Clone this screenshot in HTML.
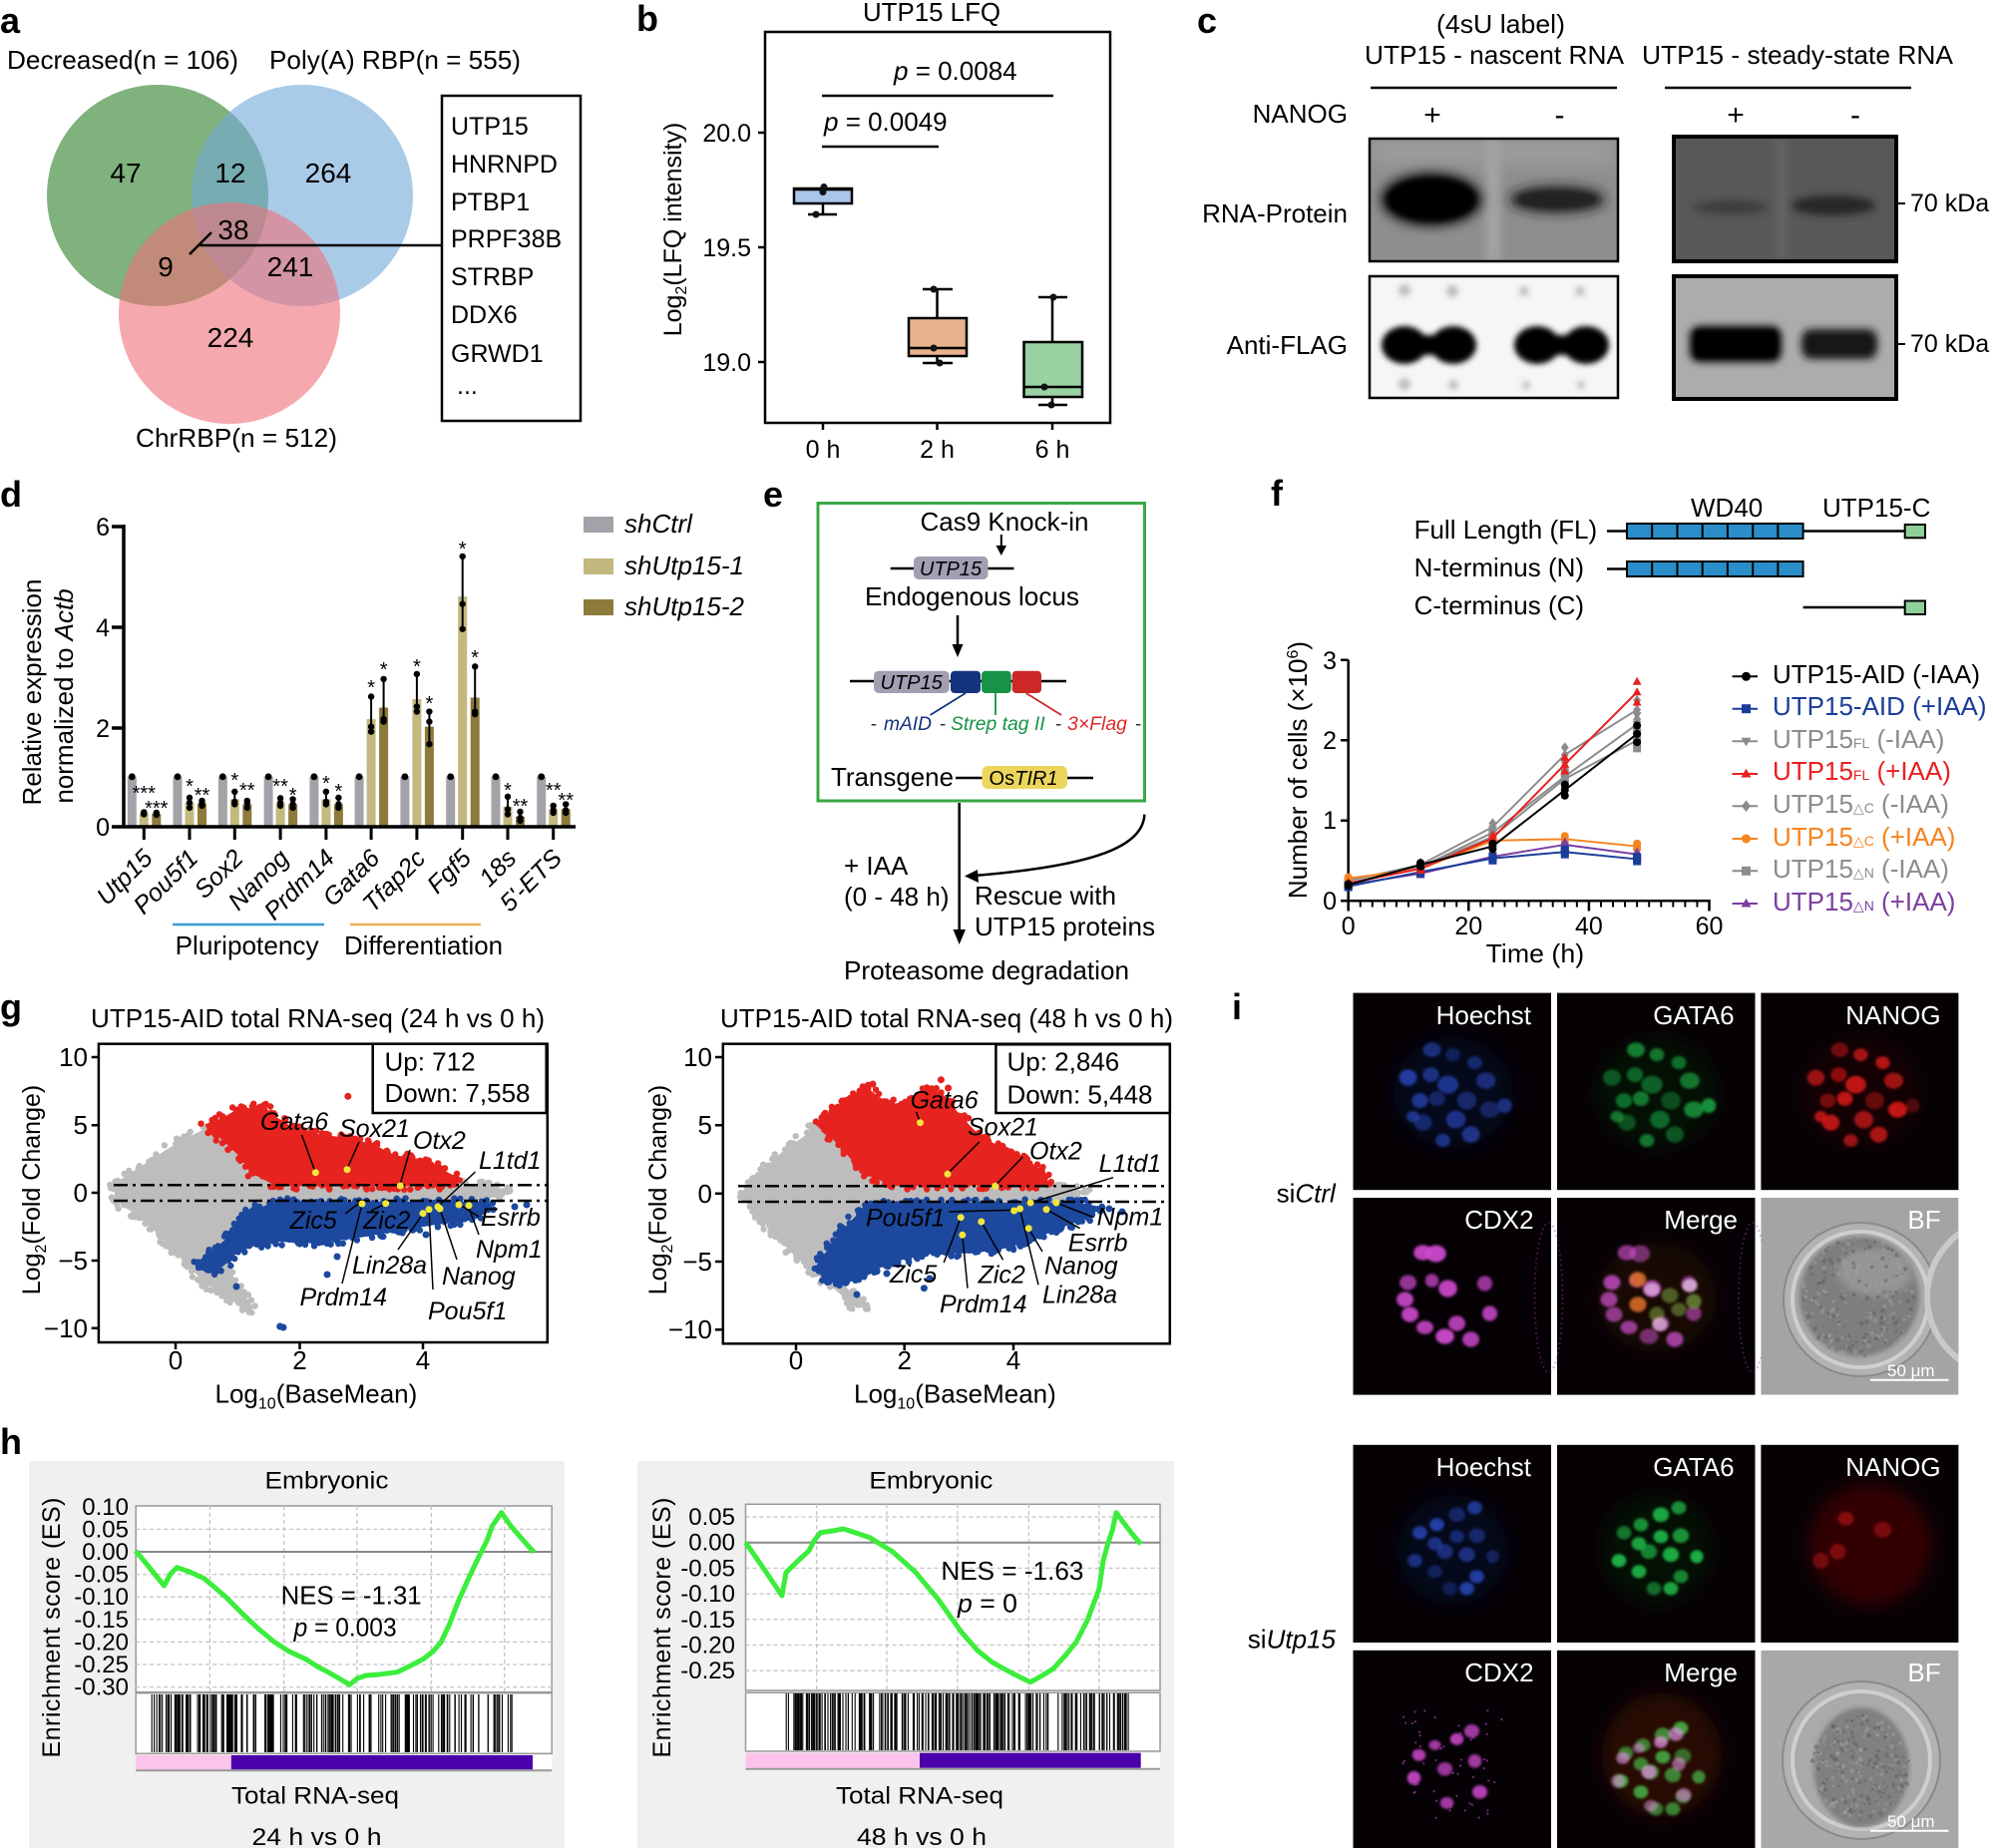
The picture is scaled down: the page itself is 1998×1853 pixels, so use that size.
<!DOCTYPE html>
<html><head><meta charset="utf-8"><title>Figure</title>
<style>
html,body{margin:0;padding:0;background:#fff;width:1998px;height:1853px;overflow:hidden}
svg{display:block;font-family:"Liberation Sans",Arial,"DejaVu Sans",sans-serif}
.pl{font-weight:bold;font-size:36px}
.i{font-style:italic}
</style></head><body>
<svg id="s" xmlns="http://www.w3.org/2000/svg" width="1998" height="1853" viewBox="0 0 1998 1853" font-size="26">
<defs>
<filter id="b1" x="-50%" y="-50%" width="200%" height="200%"><feGaussianBlur stdDeviation="1.3"/></filter>
<filter id="b2" x="-50%" y="-50%" width="200%" height="200%"><feGaussianBlur stdDeviation="2"/></filter>
<filter id="b3" x="-50%" y="-50%" width="200%" height="200%"><feGaussianBlur stdDeviation="3"/></filter>
<filter id="b4" x="-50%" y="-50%" width="200%" height="200%"><feGaussianBlur stdDeviation="4"/></filter>
<filter id="b6" x="-50%" y="-50%" width="200%" height="200%"><feGaussianBlur stdDeviation="6"/></filter>
<filter id="b8" x="-50%" y="-50%" width="200%" height="200%"><feGaussianBlur stdDeviation="9"/></filter>
<clipPath id="cb1"><rect x="1373" y="139" width="249" height="123"/></clipPath>
<clipPath id="cb2"><rect x="1678" y="137" width="223" height="125"/></clipPath>
<clipPath id="cb3"><rect x="1373" y="277" width="249" height="122"/></clipPath>
<clipPath id="cb4"><rect x="1678" y="277" width="223" height="123"/></clipPath>
<clipPath id="cgL"><rect x="99" y="1047" width="450" height="299"/></clipPath>
<clipPath id="cgR"><rect x="725" y="1047" width="448" height="300"/></clipPath>
<clipPath id="cbf1"><rect x="1765.4" y="1201" width="198" height="197.6"/></clipPath>
<clipPath id="cbf2"><rect x="1765.4" y="1654.8" width="198" height="198.2"/></clipPath>
<clipPath id="cimg"><rect x="1356" y="995" width="608" height="858"/></clipPath>
</defs>

<!-- ================= Panel a ================= -->
<text class="pl" x="0" y="33">a</text>
<text x="7" y="69" textLength="232" lengthAdjust="spacingAndGlyphs">Decreased(n = 106)</text>
<text x="270" y="69" textLength="252" lengthAdjust="spacingAndGlyphs">Poly(A) RBP(n = 555)</text>
<circle cx="158" cy="196" r="111" fill="rgb(42,127,37)" fill-opacity="0.6"/>
<circle cx="303" cy="196" r="111" fill="rgb(113,168,217)" fill-opacity="0.6"/>
<circle cx="230" cy="314" r="111" fill="rgb(238,112,120)" fill-opacity="0.6"/>
<g font-size="28" text-anchor="middle">
<text x="126" y="183">47</text><text x="231" y="183">12</text><text x="329" y="183">264</text>
<text x="234" y="240">38</text><text x="166" y="277">9</text><text x="291" y="277">241</text>
<text x="231" y="348">224</text>
</g>
<text x="136" y="448" textLength="202" lengthAdjust="spacingAndGlyphs">ChrRBP(n = 512)</text>
<path d="M190 255L212 233M200 246H443" stroke="#000" stroke-width="2.5" fill="none"/>
<rect x="443" y="96" width="139" height="326" fill="none" stroke="#000" stroke-width="2.5"/>
<g font-size="25">
<text x="452" y="135">UTP15</text><text x="452" y="173">HNRNPD</text><text x="452" y="211">PTBP1</text>
<text x="452" y="248">PRPF38B</text><text x="452" y="286">STRBP</text><text x="452" y="324">DDX6</text>
<text x="452" y="363">GRWD1</text><text x="458" y="395">...</text>
</g>

<!-- ================= Panel b ================= -->
<text class="pl" x="638" y="31">b</text>
<text x="865" y="21" textLength="138" lengthAdjust="spacingAndGlyphs">UTP15 LFQ</text>
<rect x="767" y="32" width="346" height="392" fill="none" stroke="#000" stroke-width="2.5"/>
<path d="M760 133H767M760 248H767M760 363H767M825 424V431M939.5 424V431M1055 424V431" stroke="#000" stroke-width="2.5"/>
<g text-anchor="end" font-size="25"><text x="753" y="142">20.0</text><text x="753" y="257">19.5</text><text x="753" y="372">19.0</text></g>
<g text-anchor="middle" font-size="25"><text x="825" y="459">0 h</text><text x="939.5" y="459">2 h</text><text x="1055" y="459">6 h</text></g>
<text transform="rotate(-90 683 230)" x="683" y="230" text-anchor="middle" font-size="25">Log<tspan font-size="16" dy="5">2</tspan><tspan dy="-5">(LFQ intensity)</tspan></text>
<g stroke="#000" stroke-width="2.5" fill="none">
<path d="M825 204V215M810 215H839"/>
<rect x="796" y="189" width="58" height="15" fill="#a9c5e8"/>
<line x1="796" y1="190" x2="854" y2="190"/>
<path d="M939.5 319V290M925 290H955M939.5 357V364M925 364H955"/>
<rect x="911" y="319" width="58" height="38" fill="#e7b28d"/>
<line x1="911" y1="349" x2="969" y2="349"/>
<path d="M1055 343V298M1041 298H1070M1055 398V406M1041 406H1070"/>
<rect x="1026.5" y="343" width="58.5" height="55" fill="#9ad1a3"/>
<line x1="1026.5" y1="388" x2="1085" y2="388"/>
</g>
<g fill="#111"><circle cx="825" cy="192.5" r="3.5"/><circle cx="826" cy="187.5" r="3.5"/><circle cx="818" cy="215" r="3.5"/>
<circle cx="936" cy="290" r="3.5"/><circle cx="936" cy="349" r="3.5"/><circle cx="942" cy="364" r="3.5"/>
<circle cx="1056" cy="298" r="3.5"/><circle cx="1047" cy="388" r="3.5"/><circle cx="1054" cy="406" r="3.5"/></g>
<path d="M824 147H941M824 96H1056" stroke="#000" stroke-width="2.5"/>
<text x="826" y="131"><tspan class="i">p</tspan> = 0.0049</text>
<text x="896" y="80"><tspan class="i">p</tspan> = 0.0084</text>

<!-- ================= Panel c ================= -->
<text class="pl" x="1200" y="33">c</text>
<text x="1440" y="33" textLength="129" lengthAdjust="spacingAndGlyphs">(4sU label)</text>
<text x="1368" y="64" textLength="260" lengthAdjust="spacingAndGlyphs">UTP15 - nascent RNA</text>
<text x="1646" y="64" textLength="312" lengthAdjust="spacingAndGlyphs">UTP15 - steady-state RNA</text>
<path d="M1374 88H1621M1669 88H1916" stroke="#000" stroke-width="2.5"/>
<text x="1351" y="123" text-anchor="end">NANOG</text>
<g font-size="30" text-anchor="middle"><text x="1436" y="125">+</text><text x="1563.5" y="125">-</text><text x="1740" y="125">+</text><text x="1860" y="125">-</text></g>
<g clip-path="url(#cb1)">
<rect x="1373" y="139" width="249" height="123" fill="#8e8e8e"/>
<rect x="1373" y="139" width="249" height="25" fill="#9c9c9c" filter="url(#b8)"/>
<rect x="1489" y="139" width="16" height="123" fill="#a2a2a2" filter="url(#b4)"/>
<ellipse cx="1435" cy="200" rx="50" ry="26" fill="#000" filter="url(#b6)"/>
<ellipse cx="1435" cy="200" rx="44" ry="21" fill="#000" filter="url(#b3)"/>
<ellipse cx="1561" cy="200" rx="48" ry="13" fill="#1a1a1a" filter="url(#b6)"/>
<ellipse cx="1561" cy="200" rx="40" ry="8" fill="#202020" filter="url(#b3)"/>
</g>
<rect x="1373" y="139" width="249" height="123" fill="none" stroke="#000" stroke-width="2.5"/>
<g clip-path="url(#cb2)">
<rect x="1678" y="137" width="223" height="125" fill="#585858"/>
<rect x="1780" y="137" width="12" height="125" fill="#646464" filter="url(#b4)"/>
<ellipse cx="1735" cy="208" rx="38" ry="7" fill="#3c3c3c" filter="url(#b4)"/>
<ellipse cx="1838" cy="206" rx="42" ry="10" fill="#262626" filter="url(#b4)"/>
</g>
<rect x="1678" y="137" width="223" height="125" fill="none" stroke="#000" stroke-width="4"/>
<g clip-path="url(#cb3)">
<rect x="1373" y="277" width="249" height="122" fill="#f6f6f6"/>
<g fill="#000" filter="url(#b3)">
<ellipse cx="1408" cy="346" rx="23" ry="19"/><ellipse cx="1457" cy="346" rx="23" ry="19"/><rect x="1395" y="336" width="75" height="20"/>
<ellipse cx="1541" cy="346" rx="23" ry="19"/><ellipse cx="1590" cy="346" rx="23" ry="19"/><rect x="1528" y="336" width="75" height="20"/>
</g>
<g fill="#777" fill-opacity="0.45" filter="url(#b3)">
<circle cx="1408" cy="291" r="6"/><circle cx="1456" cy="292" r="6"/><circle cx="1528" cy="292" r="5"/><circle cx="1584" cy="292" r="5"/>
<circle cx="1408" cy="385" r="6"/><circle cx="1457" cy="386" r="5"/><circle cx="1530" cy="386" r="4"/><circle cx="1585" cy="386" r="4"/>
</g>
</g>
<rect x="1373" y="277" width="249" height="122" fill="none" stroke="#000" stroke-width="2.5"/>
<g clip-path="url(#cb4)">
<rect x="1678" y="277" width="223" height="123" fill="#acacac"/>
<rect x="1694" y="327" width="92" height="36" rx="10" fill="#000" filter="url(#b4)"/>
<rect x="1700" y="332" width="80" height="26" fill="#000" filter="url(#b2)"/>
<rect x="1806" y="330" width="76" height="30" rx="10" fill="#161616" filter="url(#b4)"/>
</g>
<rect x="1678" y="277" width="223" height="123" fill="none" stroke="#000" stroke-width="4"/>
<text x="1351" y="223" text-anchor="end">RNA-Protein</text>
<text x="1351" y="355" text-anchor="end">Anti-FLAG</text>
<path d="M1903 204H1910M1903 345H1910" stroke="#000" stroke-width="2"/>
<text x="1915" y="212" font-size="25">70 kDa</text>
<text x="1915" y="353" font-size="25">70 kDa</text>

<!-- ================= Panel d ================= -->
<text class="pl" x="0" y="508">d</text>
<g id="gd"></g>
<path d="M124 526V829M112 829H577M112 528H124M112 629H124M112 730H124" stroke="#000" stroke-width="3.5" fill="none"/>
<path d="M144.3 829V842M190 829V842M235.3 829V842M281.1 829V842M326.9 829V842M372.1 829V842M417.9 829V842M463.7 829V842M509 829V842M554.7 829V842" stroke="#000" stroke-width="3"/>
<g text-anchor="end" font-size="25"><text x="110" y="537">6</text><text x="110" y="638">4</text><text x="110" y="739">2</text><text x="110" y="838">0</text></g>
<g font-size="20" text-anchor="middle">
<text x="144.3" y="802">***</text><text x="156.8" y="817">***</text>
<text x="190" y="795">*</text><text x="202.5" y="804">**</text>
<text x="235.3" y="789">*</text><text x="247.8" y="799">**</text>
<text x="281.1" y="795">**</text><text x="293.6" y="804">*</text>
<text x="326.9" y="792">*</text><text x="339.4" y="800">*</text>
<text x="372.1" y="696">*</text><text x="384.6" y="678">*</text>
<text x="417.9" y="675">*</text><text x="430.4" y="712">*</text>
<text x="463.7" y="557">*</text><text x="476.2" y="666">*</text>
<text x="509" y="799">*</text><text x="521.5" y="815">**</text>
<text x="554.7" y="799">**</text><text x="567.2" y="809">**</text>
</g>
<g class="i" font-size="25" text-anchor="end">
<text transform="rotate(-45 154.3 862)" x="154.3" y="862">Utp15</text>
<text transform="rotate(-45 200 862)" x="200" y="862">Pou5f1</text>
<text transform="rotate(-45 245.3 862)" x="245.3" y="862">Sox2</text>
<text transform="rotate(-45 291.1 862)" x="291.1" y="862">Nanog</text>
<text transform="rotate(-45 336.9 862)" x="336.9" y="862">Prdm14</text>
<text transform="rotate(-45 382.1 862)" x="382.1" y="862">Gata6</text>
<text transform="rotate(-45 427.9 862)" x="427.9" y="862">Tfap2c</text>
<text transform="rotate(-45 473.7 862)" x="473.7" y="862">Fgf5</text>
<text transform="rotate(-45 519 862)" x="519" y="862">18s</text>
<text transform="rotate(-45 564.7 862)" x="564.7" y="862">5'-ETS</text>
</g>
<path d="M173 927H325" stroke="#3c9bd8" stroke-width="2.5"/>
<path d="M351 927H482" stroke="#e9b04f" stroke-width="2.5"/>
<text x="175.6" y="957" textLength="144" lengthAdjust="spacingAndGlyphs">Pluripotency</text>
<text x="345" y="957" textLength="159" lengthAdjust="spacingAndGlyphs">Differentiation</text>
<text transform="rotate(-90 41 694)" x="41" y="694" text-anchor="middle">Relative expression</text>
<text transform="rotate(-90 73 698)" x="73" y="698" text-anchor="middle">normalized to <tspan class="i">Actb</tspan></text>
<rect x="585" y="518" width="30" height="16" fill="#a3a2a8"/>
<rect x="585" y="560" width="30" height="16" fill="#c3b97f"/>
<rect x="585" y="601" width="30" height="16" fill="#8d7b3b"/>
<g class="i"><text x="626" y="534">shCtrl</text><text x="626" y="576">shUtp15-1</text><text x="626" y="617">shUtp15-2</text></g>

<!-- ================= Panel e ================= -->
<text class="pl" x="765" y="508">e</text>
<rect x="820" y="504.5" width="327.5" height="298.5" fill="none" stroke="#3aa845" stroke-width="3"/>
<text x="922.5" y="532" textLength="169" lengthAdjust="spacingAndGlyphs">Cas9 Knock-in</text>
<path d="M1003.8 536V550" stroke="#000" stroke-width="2"/><path d="M998.5 547H1009L1003.8 557Z"/>
<path d="M892.7 570H1016.4" stroke="#000" stroke-width="2.5"/>
<rect x="916" y="558" width="74.5" height="23" rx="5" fill="#a39eb2"/>
<text x="953" y="577" text-anchor="middle" class="i" font-size="20">UTP15</text>
<text x="867" y="607" textLength="215" lengthAdjust="spacingAndGlyphs">Endogenous locus</text>
<path d="M960 617V648" stroke="#000" stroke-width="2.5"/><path d="M954.5 646H965.5L960 659Z"/>
<path d="M852 683H1069" stroke="#000" stroke-width="2.5"/>
<rect x="876" y="672.7" width="75.7" height="22.3" rx="5" fill="#a39eb2"/>
<text x="913.6" y="691" text-anchor="middle" class="i" font-size="20">UTP15</text>
<rect x="953" y="672.7" width="30" height="22.3" rx="4" fill="#13337f"/>
<rect x="984" y="672.7" width="29.7" height="22.3" rx="4" fill="#179246"/>
<rect x="1014.7" y="672.7" width="29.3" height="22.3" rx="4" fill="#cc2828"/>
<path d="M968 695L932.5 717" stroke="#13337f" stroke-width="1.8"/>
<path d="M998 695V717" stroke="#179246" stroke-width="1.8"/>
<path d="M1028.7 695L1064 717" stroke="#cc2828" stroke-width="1.8"/>
<g font-size="19">
<text x="872.8" y="732" fill="#333">-</text>
<text x="886" y="732" fill="#13337f" class="i" textLength="48" lengthAdjust="spacingAndGlyphs">mAID</text>
<text x="942" y="732" fill="#333">-</text>
<text x="953" y="732" fill="#179246" class="i" textLength="94.6" lengthAdjust="spacingAndGlyphs">Strep tag II</text>
<text x="1058" y="732" fill="#333">-</text>
<text x="1070" y="732" fill="#dd2a2a" class="i" textLength="60" lengthAdjust="spacingAndGlyphs">3×Flag</text>
<text x="1138" y="732" fill="#333">-</text>
</g>
<text x="833" y="788" textLength="123" lengthAdjust="spacingAndGlyphs">Transgene</text>
<path d="M958 780H984.5M1070 780H1096" stroke="#000" stroke-width="2.5"/>
<rect x="984.5" y="768" width="85.5" height="23" rx="6" fill="#ecd55c"/>
<text x="1026" y="787" text-anchor="middle" font-size="20">Os<tspan class="i">TIR1</tspan></text>
<path d="M961.7 805V934" stroke="#000" stroke-width="2.5"/><path d="M955.5 932H968L961.7 947Z"/>
<path d="M1147.4 816.7C1146 848 1100 868 976 878" stroke="#000" stroke-width="2.5" fill="none"/><path d="M967 878.5L980 872L981 885Z"/>
<text x="846" y="877">+ IAA</text>
<text x="846" y="908">(0 - 48 h)</text>
<text x="977" y="907" textLength="142" lengthAdjust="spacingAndGlyphs">Rescue with</text>
<text x="977" y="938" textLength="181" lengthAdjust="spacingAndGlyphs">UTP15 proteins</text>
<text x="846" y="982" textLength="286" lengthAdjust="spacingAndGlyphs">Proteasome degradation</text>

<!-- ================= Panel f ================= -->
<text class="pl" x="1274" y="507">f</text>
<text x="1695" y="518">WD40</text>
<text x="1827" y="518">UTP15-C</text>
<text x="1417.6" y="540">Full Length (FL)</text>
<text x="1417.6" y="578">N-terminus (N)</text>
<text x="1417.6" y="616">C-terminus (C)</text>
<path d="M1611 532.5H1631M1807.6 532.5H1910M1611 570.5H1631M1807.6 609H1910" stroke="#000" stroke-width="2.5"/>
<g stroke="#000" stroke-width="2">
<rect x="1631" y="525" width="176.6" height="15" fill="#2b8dc9"/>
<rect x="1631" y="563" width="176.6" height="15" fill="#2b8dc9"/>
<path d="M1656.2 525V540M1681.5 525V540M1706.7 525V540M1731.9 525V540M1757.2 525V540M1782.4 525V540M1656.2 563V578M1681.5 563V578M1706.7 563V578M1731.9 563V578M1757.2 563V578M1782.4 563V578"/>
<rect x="1909.7" y="526" width="20.3" height="13.3" fill="#8fcf9a"/>
<rect x="1909.7" y="602.5" width="20.3" height="13.5" fill="#8fcf9a"/>
</g>
<path d="M1351.7 661.7V903.3H1714.8M1344 661.7H1351.7M1344 742.2H1351.7M1344 822.7H1351.7M1344 903.3H1351.7M1351.7 903.3V913.5M1472.3 903.3V913.5M1592.9 903.3V913.5M1713.5 903.3V913.5" stroke="#000" stroke-width="2.5" fill="none"/>
<g id="gf"></g>
<g text-anchor="end" font-size="25"><text x="1340" y="671">3</text><text x="1340" y="751">2</text><text x="1340" y="831">1</text><text x="1340" y="912">0</text></g>
<g text-anchor="middle" font-size="25"><text x="1351.7" y="937">0</text><text x="1472.3" y="937">20</text><text x="1592.9" y="937">40</text><text x="1713.5" y="937">60</text></g>
<text x="1489.6" y="965" textLength="98.5" lengthAdjust="spacingAndGlyphs">Time (h)</text>
<text transform="rotate(-90 1310 772)" x="1310" y="772" text-anchor="middle">Number of cells (×10<tspan font-size="16" dy="-9">6</tspan><tspan dy="9">)</tspan></text>
<g stroke-width="2">
<line x1="1736.6" y1="678.3" x2="1762" y2="678.3" stroke="#000"/><circle cx="1750.5" cy="678.3" r="4.5" fill="#000"/>
<line x1="1736.6" y1="710.7" x2="1762" y2="710.7" stroke="#1a3d9a"/><rect x="1746" y="706.2" width="9" height="9" fill="#1a3d9a"/>
<line x1="1736.6" y1="743.3" x2="1762" y2="743.3" stroke="#8c8c8c"/><path d="M1750.5 748.5L1755.5 739.8H1745.5Z" fill="#8c8c8c"/>
<line x1="1736.6" y1="776" x2="1762" y2="776" stroke="#e82020"/><path d="M1750.5 770.8L1755.5 779.5H1745.5Z" fill="#e82020"/>
<line x1="1736.6" y1="808.3" x2="1762" y2="808.3" stroke="#8c8c8c"/><path d="M1750.5 802.5L1755 808.3L1750.5 814.1L1746 808.3Z" fill="#8c8c8c"/>
<line x1="1736.6" y1="841" x2="1762" y2="841" stroke="#f5841f"/><circle cx="1750.5" cy="841" r="4.5" fill="#f5841f"/>
<line x1="1736.6" y1="873.3" x2="1762" y2="873.3" stroke="#8c8c8c"/><rect x="1746" y="868.8" width="9" height="9" fill="#8c8c8c"/>
<line x1="1736.6" y1="906" x2="1762" y2="906" stroke="#7b3fa0"/><path d="M1750.5 900.8L1755.5 909.5H1745.5Z" fill="#7b3fa0"/>
</g>
<text x="1777" y="685">UTP15-AID (-IAA)</text>
<text x="1777" y="717" fill="#1a3d9a">UTP15-AID (+IAA)</text>
<text x="1777" y="750" fill="#8c8c8c">UTP15<tspan font-size="14">FL</tspan> (-IAA)</text>
<text x="1777" y="782" fill="#e82020">UTP15<tspan font-size="14">FL</tspan> (+IAA)</text>
<text x="1777" y="815" fill="#8c8c8c">UTP15<tspan font-size="14">△C</tspan> (-IAA)</text>
<text x="1777" y="848" fill="#f5841f">UTP15<tspan font-size="14">△C</tspan> (+IAA)</text>
<text x="1777" y="880" fill="#8c8c8c">UTP15<tspan font-size="14">△N</tspan> (-IAA)</text>
<text x="1777" y="913" fill="#7b3fa0">UTP15<tspan font-size="14">△N</tspan> (+IAA)</text>

<!-- ================= Panel g ================= -->
<text class="pl" x="0" y="1022">g</text>
<text x="91" y="1030" textLength="455" lengthAdjust="spacingAndGlyphs">UTP15-AID total RNA-seq (24 h vs 0 h)</text>
<text x="722" y="1030" textLength="454" lengthAdjust="spacingAndGlyphs">UTP15-AID total RNA-seq (48 h vs 0 h)</text>
<g clip-path="url(#cgL)">
<g id="gLg"><polygon id="pLg" fill="#bdbdbd" points="114.7,1186.7 136.4,1172.7 166,1153.3 185.8,1141.7 205.6,1131.7 221.4,1128.3 245,1146.7 276.8,1176.7 395.4,1181.7 486.4,1188.3 514,1194 486.4,1203.3 395.4,1206 276.8,1208.3 237.2,1223.3 221.4,1256.7 237.2,1290 255,1311.7 247,1313.3 205.6,1286.7 185.8,1266.7 158,1236.7 134.4,1216.7 114.7,1203.3"/></g>
<g id="gLr"><polygon id="pLr" fill="#e6231e" points="205.6,1127.3 221.4,1121.7 237.2,1112.7 253,1111.7 263,1108.3 276.8,1120 292.6,1130 316.3,1136.7 340,1140 359.8,1143.3 379.6,1150 395.4,1158.3 419,1161.7 439,1170 458.7,1180.7 454.7,1189.3 276.8,1189.3 253,1176.7 237.2,1156.7 221.4,1141.7 207.6,1132.7"/>
<circle cx="348.8" cy="1099.3" r="3.5" fill="#e6231e"/><circle cx="237" cy="1113" r="3.5" fill="#e6231e"/><circle cx="265" cy="1108" r="3.5" fill="#e6231e"/><circle cx="458" cy="1183" r="3.5" fill="#e6231e"/></g>
<g id="gLb"><polygon id="pLb" fill="#1c489e" points="276.8,1205 490.3,1205 494.3,1211.7 474.5,1223.3 435,1228.3 395.4,1235 355.9,1241.7 316.3,1246.7 276.8,1245 253,1250 237.2,1256.7 225.4,1268.3 213.5,1276.7 199.7,1273.3 197.7,1265 209.6,1256.7 225.4,1243.3 237.2,1226.7 253,1213.3"/>
<circle cx="280.7" cy="1330" r="3.5" fill="#1c489e"/><circle cx="284" cy="1331" r="3.5" fill="#1c489e"/><circle cx="328" cy="1278" r="3.5" fill="#1c489e"/><circle cx="338" cy="1260" r="3.5" fill="#1c489e"/><circle cx="237" cy="1290" r="3.5" fill="#1c489e"/><circle cx="427" cy="1238" r="3.5" fill="#1c489e"/><circle cx="516" cy="1210" r="3.5" fill="#1c489e"/><circle cx="528" cy="1208" r="3.5" fill="#1c489e"/></g>
</g>
<g clip-path="url(#cgR)">
<g id="gRg"><polygon id="pRg" fill="#bdbdbd" points="746.5,1190 762.3,1175 786,1153.3 809.8,1136.7 821.7,1123.3 833.5,1130 857.2,1150 888.9,1176.7 936.3,1186.7 1055,1190 1094.5,1195 1055,1205 936.3,1206.7 873,1210 845.4,1230 825.6,1263.3 841.4,1283.3 867.1,1310 859.2,1311.7 817.7,1276.7 794,1256.7 770.3,1230 754.4,1213.3 746.5,1203.3"/></g>
<g id="gRr"><polygon id="pRr" fill="#e6231e" points="821.7,1123.3 833.5,1113.3 847.4,1103.3 857.2,1096.7 869,1090 881,1100 896.8,1106.7 912.6,1103.3 932.4,1090 948.2,1100 964,1120 983.8,1140 1003.6,1150 1027.3,1160 1047,1176.7 1053,1188.3 896.8,1189.3 865.2,1176.7 845.4,1153.3 829.6,1136.7"/>
<circle cx="943.4" cy="1082.7" r="3.5" fill="#e6231e"/><circle cx="875" cy="1087" r="3.5" fill="#e6231e"/><circle cx="950.6" cy="1091" r="3.5" fill="#e6231e"/><circle cx="862" cy="1094" r="3.5" fill="#e6231e"/></g>
<g id="gRb"><polygon id="pRb" fill="#1c489e" points="873,1206 1082.6,1206 1102.4,1210 1094.5,1220 1066.8,1230 1035,1243.3 1007.5,1251.7 975.9,1256.7 936.3,1256.7 904.7,1263.3 877,1273.3 857.2,1283.3 841.4,1290 823.6,1280 817.7,1270 829.6,1253.3 841.4,1236.7 857.2,1220"/>
<circle cx="926.4" cy="1291.7" r="3.5" fill="#1c489e"/><circle cx="859" cy="1298" r="3.5" fill="#1c489e"/><circle cx="889" cy="1277" r="3.5" fill="#1c489e"/><circle cx="932" cy="1282" r="3.5" fill="#1c489e"/><circle cx="1112" cy="1212" r="3.5" fill="#1c489e"/><circle cx="1125" cy="1215" r="3.5" fill="#1c489e"/></g>
</g>
<g stroke="#000" stroke-width="2.5" stroke-dasharray="14 5 3 5">
<path d="M114 1188.3H548.8M114 1204H548.8"/>
<path d="M740 1189.3H1172.8M740 1205H1172.8"/>
</g>
<g stroke="#000" stroke-width="1.5" fill="none">
<path d="M302.5 1138L316 1175M360 1145L348 1172M411 1153L401 1188M476.5 1175L441 1208M480 1220L461 1208M480 1238L469 1208M458 1263L441 1212M434 1293L430 1212M399 1253L424 1217M343 1287L363 1207M346 1217L362 1205M372 1214L386.7 1207"/>
<path d="M918.5 1115L922.5 1125M981.8 1145L950 1176.7M1025.3 1160L997.6 1189M1116 1180.7L1033 1206M1096.5 1220.7L1058.9 1206M1082.6 1231.7L1049 1212.7M1045 1255L1031.2 1231.7M1041 1288.3L1022.5 1212.7M951.4 1215L1016.6 1213.3M946.2 1266L963.2 1220.7M970 1291.7L964.8 1238.3M1005.5 1263.3L983.8 1225"/>
</g>
<g fill="#f2e63a">
<circle cx="316.3" cy="1175.7" r="3.5"/><circle cx="348" cy="1172.7" r="3.5"/><circle cx="401.3" cy="1189" r="3.5"/><circle cx="439" cy="1210" r="3.5"/><circle cx="460" cy="1208" r="3.5"/><circle cx="470" cy="1208.7" r="3.5"/><circle cx="441" cy="1212" r="3.5"/><circle cx="430" cy="1212.7" r="3.5"/><circle cx="424" cy="1216.7" r="3.5"/><circle cx="363" cy="1207" r="3.5"/><circle cx="386.7" cy="1206.7" r="3.5"/>
<circle cx="922.5" cy="1125.7" r="3.5"/><circle cx="950" cy="1177.3" r="3.5"/><circle cx="997.6" cy="1189.3" r="3.5"/><circle cx="1033" cy="1206" r="3.5"/><circle cx="1058.9" cy="1206" r="3.5"/><circle cx="1049" cy="1212.7" r="3.5"/><circle cx="1031.2" cy="1231.7" r="3.5"/><circle cx="1022.5" cy="1212" r="3.5"/><circle cx="1016.6" cy="1214" r="3.5"/><circle cx="963.2" cy="1220.7" r="3.5"/><circle cx="964.8" cy="1238.3" r="3.5"/><circle cx="983.8" cy="1225" r="3.5"/>
</g>
<g class="i" font-size="25">
<text x="261" y="1133">Gata6</text><text x="340" y="1140">Sox21</text><text x="414" y="1152">Otx2</text><text x="480" y="1172">L1td1</text>
<text x="482" y="1229">Esrrb</text><text x="477" y="1261">Npm1</text><text x="443" y="1288">Nanog</text><text x="429" y="1323">Pou5f1</text>
<text x="353" y="1277">Lin28a</text><text x="300.5" y="1309">Prdm14</text><text x="290.6" y="1232">Zic5</text><text x="364" y="1232">Zic2</text>
<text x="912.6" y="1111.7">Gata6</text><text x="970" y="1138.3">Sox21</text><text x="1032" y="1162.7">Otx2</text><text x="1101.6" y="1175">L1td1</text>
<text x="1099.6" y="1228.3">Npm1</text><text x="1070.8" y="1254.3">Esrrb</text><text x="1047" y="1277.7">Nanog</text><text x="1045" y="1306.7">Lin28a</text>
<text x="868" y="1229.3">Pou5f1</text><text x="892" y="1286">Zic5</text><text x="942" y="1316">Prdm14</text><text x="980.6" y="1286.7">Zic2</text>
</g>
<rect x="98.9" y="1046.7" width="449.9" height="299.3" fill="none" stroke="#000" stroke-width="2.5"/>
<rect x="724.8" y="1046.7" width="448" height="300.6" fill="none" stroke="#000" stroke-width="2.5"/>
<rect x="373.7" y="1046.7" width="174" height="69.3" fill="#fff" stroke="#000" stroke-width="2.5"/>
<rect x="998.4" y="1047.3" width="174.4" height="68.7" fill="#fff" stroke="#000" stroke-width="2.5"/>
<text x="385.5" y="1073.3">Up: 712</text><text x="385.5" y="1105">Down: 7,558</text>
<text x="1009.5" y="1073.3">Up: 2,846</text><text x="1009.5" y="1106.7">Down: 5,448</text>
<path d="M91.7 1060H98.9M91.7 1128.3H98.9M91.7 1196H98.9M91.7 1264H98.9M91.7 1331.7H98.9M176 1346V1353M300.5 1346V1353M424 1346V1353" stroke="#000" stroke-width="2.5"/>
<path d="M716.9 1060H724.8M716.9 1128.3H724.8M716.9 1196.7H724.8M716.9 1265H724.8M716.9 1333.3H724.8M798 1347.3V1354M906.7 1347.3V1354M1016 1347.3V1354" stroke="#000" stroke-width="2.5"/>
<g text-anchor="end"><text x="88" y="1069">10</text><text x="88" y="1137">5</text><text x="88" y="1205">0</text><text x="88" y="1273">−5</text><text x="88" y="1341">−10</text>
<text x="714" y="1069">10</text><text x="714" y="1137">5</text><text x="714" y="1206">0</text><text x="714" y="1274">−5</text><text x="714" y="1342">−10</text></g>
<g text-anchor="middle"><text x="176" y="1373">0</text><text x="300.5" y="1373">2</text><text x="424" y="1373">4</text>
<text x="798" y="1373">0</text><text x="906.7" y="1373">2</text><text x="1016" y="1373">4</text></g>
<text x="215.5" y="1406.7">Log<tspan font-size="16" dy="6">10</tspan><tspan dy="-6">(BaseMean)</tspan></text>
<text x="856" y="1406.7">Log<tspan font-size="16" dy="6">10</tspan><tspan dy="-6">(BaseMean)</tspan></text>
<text transform="rotate(-90 40 1193)" x="40" y="1193" text-anchor="middle" font-size="25">Log<tspan font-size="16" dy="6">2</tspan><tspan dy="-6">(Fold Change)</tspan></text>
<text transform="rotate(-90 668 1193)" x="668" y="1193" text-anchor="middle" font-size="25">Log<tspan font-size="16" dy="6">2</tspan><tspan dy="-6">(Fold Change)</tspan></text>

<!-- ================= Panel h ================= -->
<text class="pl" x="0" y="1458">h</text>
<rect x="29" y="1465" width="537" height="388" fill="#f0f0f0"/>
<rect x="639" y="1465" width="538" height="388" fill="#f0f0f0"/>
<text x="327.5" y="1492.7" text-anchor="middle" font-size="24" textLength="124" lengthAdjust="spacingAndGlyphs">Embryonic</text>
<text x="933.4" y="1492.7" text-anchor="middle" font-size="24" textLength="124" lengthAdjust="spacingAndGlyphs">Embryonic</text>
<rect x="136.2" y="1510" width="417" height="186.7" fill="#fff" stroke="#999" stroke-width="1.5"/>
<rect x="747.5" y="1508.3" width="415.5" height="186.7" fill="#fff" stroke="#999" stroke-width="1.5"/>
<g stroke="#c4c4c4" stroke-width="1.3" stroke-dasharray="4 3">
<path d="M136.2 1533.4H553.2M136.2 1578.6H553.2M136.2 1601.2H553.2M136.2 1623.8H553.2M136.2 1646.4H553.2M136.2 1669H553.2M136.2 1691.6H553.2M210.4 1510V1696.7M284.6 1510V1696.7M358 1510V1696.7M432.3 1510V1696.7M505.7 1510V1696.7"/>
<path d="M747.5 1521H1163M747.5 1572.4H1163M747.5 1598.1H1163M747.5 1623.8H1163M747.5 1649.5H1163M747.5 1675.2H1163M818.7 1508.3V1695M889 1508.3V1695M960 1508.3V1695M1031.4 1508.3V1695M1101.8 1508.3V1695"/>
</g>
<path d="M136.2 1556H553.2M747.5 1546.7H1163" stroke="#888" stroke-width="2"/>
<polyline id="cv1" fill="none" stroke="#3ced3c" stroke-width="5" stroke-linejoin="round" points="136,1555 150,1572 164.5,1590 171,1578 177.5,1571.7 190,1576 205,1583 225,1600 245,1620 260,1634 275.4,1646.7 290,1656 306,1663.3 318,1671 329,1676.7 340,1683 350.4,1689.3 358,1683 367,1680 380,1679 398,1676.7 412,1670 424.6,1663.3 434,1656 442,1646.7 450,1630 459,1606.7 470,1582 480.5,1560 488,1545 493.5,1530 502.7,1516.7 512,1530 525,1545 535.6,1556.7"/>
<polyline id="cv2" fill="none" stroke="#3ced3c" stroke-width="5" stroke-linejoin="round" points="747.5,1546.7 765,1572 784,1600 786,1588 788,1576.7 800,1565 811,1555 816,1545 822.5,1536.7 835,1535 845.4,1533 858,1537 872,1541.7 895,1556 918,1576.7 940,1603 964,1636.7 980,1655 994.6,1666.7 1015,1678 1033,1686.7 1045,1680 1055.8,1673.3 1068,1660 1078.8,1646.7 1090,1625 1101.8,1593.3 1106,1565 1111,1546.7 1115,1535 1119,1516.7 1125,1525 1135,1538 1143.8,1548.3"/>
<g font-size="24" text-anchor="end">
<text x="129" y="1518.8">0.10</text><text x="129" y="1541.4">0.05</text><text x="129" y="1564">0.00</text><text x="129" y="1586.6">-0.05</text><text x="129" y="1609.2">-0.10</text><text x="129" y="1631.8">-0.15</text><text x="129" y="1654.4">-0.20</text><text x="129" y="1677">-0.25</text><text x="129" y="1699.6">-0.30</text>
<text x="737" y="1529">0.05</text><text x="737" y="1554.7">0.00</text><text x="737" y="1580.4">-0.05</text><text x="737" y="1606.1">-0.10</text><text x="737" y="1631.8">-0.15</text><text x="737" y="1657.5">-0.20</text><text x="737" y="1683.2">-0.25</text>
</g>
<text transform="rotate(-90 60 1632)" x="60" y="1632" text-anchor="middle" font-size="25" textLength="261" lengthAdjust="spacing">Enrichment score (ES)</text>
<text transform="rotate(-90 672 1632)" x="672" y="1632" text-anchor="middle" font-size="25" textLength="261" lengthAdjust="spacing">Enrichment score (ES)</text>
<text x="281.6" y="1608.3" textLength="141" lengthAdjust="spacingAndGlyphs">NES = -1.31</text>
<text x="294.6" y="1640.7" textLength="103" lengthAdjust="spacingAndGlyphs"><tspan class="i">p</tspan> = 0.003</text>
<text x="943.4" y="1584" textLength="143" lengthAdjust="spacingAndGlyphs">NES = -1.63</text>
<text x="960" y="1616.7" textLength="60" lengthAdjust="spacingAndGlyphs"><tspan class="i">p</tspan> = 0</text>
<rect x="136.2" y="1697.7" width="417" height="60.6" fill="#fff" stroke="#999" stroke-width="1.5"/>
<rect x="747.5" y="1697.3" width="415.5" height="58.7" fill="#fff" stroke="#999" stroke-width="1.5"/>
<g id="hb1"></g><g id="hb2"></g>
<rect x="136.2" y="1760" width="95.6" height="14.3" fill="#fcc4ea"/>
<rect x="231.8" y="1760" width="302.2" height="14.3" fill="#4a00aa"/>
<rect x="534" y="1760" width="19.2" height="14.3" fill="#fff"/>
<path d="M136.2 1775.3H553.2" stroke="#999" stroke-width="2"/>
<rect x="747.5" y="1757.7" width="174.5" height="15" fill="#fcc4ea"/>
<rect x="922" y="1757.7" width="221.8" height="15" fill="#4a00aa"/>
<rect x="1143.8" y="1757.7" width="19.2" height="15" fill="#fff"/>
<path d="M747.5 1773.7H1163" stroke="#999" stroke-width="2"/>
<text x="316" y="1808.3" text-anchor="middle" font-size="24" textLength="168" lengthAdjust="spacingAndGlyphs">Total RNA-seq</text>
<text x="317.5" y="1850" text-anchor="middle" font-size="24" textLength="130" lengthAdjust="spacingAndGlyphs">24 h vs 0 h</text>
<text x="922" y="1808.3" text-anchor="middle" font-size="24" textLength="168" lengthAdjust="spacingAndGlyphs">Total RNA-seq</text>
<text x="924" y="1850" text-anchor="middle" font-size="24" textLength="130" lengthAdjust="spacingAndGlyphs">48 h vs 0 h</text>

<!-- ================= Panel i ================= -->
<text class="pl" x="1235" y="1022">i</text>
<g fill="#050105">
<rect x="1356.5" y="995.6" width="198.5" height="197.6"/><rect x="1561" y="995.6" width="198.5" height="197.6"/><rect x="1765.4" y="995.6" width="198" height="197.6"/>
<rect x="1356.5" y="1201" width="198.5" height="197.6"/><rect x="1561" y="1201" width="198.5" height="197.6"/>
<rect x="1356.5" y="1448.8" width="198.5" height="198.2"/><rect x="1561" y="1448.8" width="198.5" height="198.2"/><rect x="1765.4" y="1448.8" width="198" height="198.2"/>
<rect x="1356.5" y="1654.8" width="198.5" height="198.2"/><rect x="1561" y="1654.8" width="198.5" height="198.2"/>
</g>
<g id="gi" clip-path="url(#cimg)"></g>
<g clip-path="url(#cbf1)">
<rect x="1765.4" y="1201" width="198" height="197.6" fill="#a4a4a4"/>
<circle cx="1865" cy="1303" r="77" fill="#b2b2b2" stroke="#8a8a8a" stroke-width="2"/>
<circle cx="1865" cy="1303" r="68" fill="#a9a9a9" stroke="#cfcfcf" stroke-width="4"/>
<ellipse cx="1864" cy="1300" rx="60" ry="60" fill="#7e7e7e" filter="url(#b2)"/>
<ellipse cx="1880" cy="1275" rx="38" ry="24" fill="#959595" filter="url(#b4)"/>
<circle cx="2010" cy="1300" r="78" fill="#a8a8a8" stroke="#c9c9c9" stroke-width="6"/>
<g id="bf1"></g>
</g>
<g clip-path="url(#cbf2)">
<rect x="1765.4" y="1654.8" width="198" height="198.2" fill="#a8a8a8"/>
<circle cx="1866" cy="1765" r="79" fill="#b2b2b2" stroke="#8a8a8a" stroke-width="2"/>
<circle cx="1866" cy="1765" r="69" fill="#aaaaaa" stroke="#cfcfcf" stroke-width="4"/>
<ellipse cx="1866" cy="1772" rx="48" ry="60" fill="#808080" filter="url(#b2)"/>
<g id="bf2"></g>
</g>
<g fill="#fff" text-anchor="end">
<text x="1535" y="1027">Hoechst</text><text x="1738.6" y="1027">GATA6</text><text x="1945.6" y="1027">NANOG</text>
<text x="1537.6" y="1232">CDX2</text><text x="1742" y="1232">Merge</text><text x="1945.6" y="1232">BF</text>
<text x="1535" y="1480">Hoechst</text><text x="1738.6" y="1480">GATA6</text><text x="1945.6" y="1480">NANOG</text>
<text x="1537.6" y="1686">CDX2</text><text x="1742" y="1686">Merge</text><text x="1945.6" y="1686">BF</text>
</g>
<g fill="#fff" font-size="17"><text x="1892" y="1380">50 μm</text><text x="1892" y="1832">50 μm</text></g>
<path d="M1875 1383.7H1953.5M1875 1835.8H1953.5" stroke="#fff" stroke-width="2"/>
<text x="1279.6" y="1205.5">si<tspan class="i">Ctrl</tspan></text>
<text x="1250.8" y="1652.6">si<tspan class="i">Utp15</tspan></text>
</svg>
<script>
(function(){
var NS='http://www.w3.org/2000/svg';
function el(p,t,a){var e=document.createElementNS(NS,t);for(var k in a)e.setAttribute(k,a[k]);p.appendChild(e);return e;}
var sd=987654;function rnd(){sd=(sd*16807)%2147483647;return sd/2147483647;}
function $(id){return document.getElementById(id);}

/* ---- panel d bars ---- */
var gd=$('gd');
var cs=[144.3,190,235.3,281.1,326.9,372.1,417.9,463.7,509,554.7];
var off=[-12,0,12.5],cols=['#a3a2a8','#c3b97f','#8d7b3b'];
var mv=[[.27,.26],[.48,.47],[.55,.45],[.48,.45],[.55,.45],[2.15,2.38],[2.55,2.0],[4.6,2.58],[.4,.2],[.35,.35]];
var pts=[[[.25,.27,.29],[.24,.26,.28]],[[.38,.48,.58],[.42,.48,.52]],[[.45,.5,.7],[.38,.47,.52]],[[.42,.48,.57],[.38,.45,.55]],[[.45,.5,.7],[.38,.45,.58]],[[1.9,2.0,2.6],[2.1,2.15,2.95]],[[2.3,2.4,3.05],[1.65,2.1,2.3]],[[3.95,4.45,5.4],[2.25,2.3,3.2]],[[.25,.35,.6],[.12,.18,.3]],[[.28,.33,.42],[.28,.33,.45]]];
function yv(v){return 829-v*50.2;}
cs.forEach(function(c,i){
 var vals=[1,mv[i][0],mv[i][1]];
 for(var j=0;j<3;j++){var x=c+off[j];el(gd,'rect',{x:x-4.5,y:yv(vals[j]),width:9,height:829-yv(vals[j]),fill:cols[j]});}
 el(gd,'circle',{cx:c+off[0],cy:yv(1),r:3.4,fill:'#000'});
 for(var j=1;j<3;j++){var x=c+off[j],p=pts[i][j-1],lo=Math.min.apply(null,p),hi=Math.max.apply(null,p);
  el(gd,'path',{d:'M'+x+' '+yv(lo)+'V'+yv(hi)+'M'+(x-3)+' '+yv(lo)+'H'+(x+3)+'M'+(x-3)+' '+yv(hi)+'H'+(x+3),stroke:'#000','stroke-width':2,fill:'none'});
  p.forEach(function(v){el(gd,'circle',{cx:x,cy:yv(v),r:3.2,fill:'#000'});});}
});

/* ---- panel f ---- */
var gf=$('gf');
function X(t){return 1351.7+t*6.03;} function Y(v){return 903.3-v*80.5;}
var T=[0,12,24,36,48];
for(var t=2;t<60;t+=2){if(t%20)el(gf,'line',{x1:X(t),x2:X(t),y1:903.3,y2:909.5,stroke:'#000','stroke-width':2});}
function mk(p,type,x,y,col,s){
 if(type=='c')el(p,'circle',{cx:x,cy:y,r:s,fill:col});
 else if(type=='s')el(p,'rect',{x:x-s,y:y-s,width:2*s,height:2*s,fill:col});
 else if(type=='u')el(p,'path',{d:'M'+x+' '+(y-s*1.2)+'L'+(x+s*1.1)+' '+(y+s*0.8)+'L'+(x-s*1.1)+' '+(y+s*0.8)+'Z',fill:col});
 else if(type=='d')el(p,'path',{d:'M'+x+' '+(y+s*1.2)+'L'+(x+s*1.1)+' '+(y-s*0.8)+'L'+(x-s*1.1)+' '+(y-s*0.8)+'Z',fill:col});
 else el(p,'path',{d:'M'+x+' '+(y-s*1.3)+'L'+(x+s)+' '+y+'L'+x+' '+(y+s*1.3)+'L'+(x-s)+' '+y+'Z',fill:col});}
var ser=[['#8c8c8c','d',[.22,.42,.85,1.55,2.2]],['#8c8c8c','m',[.25,.45,.92,1.82,2.38]],['#8c8c8c','s',[.22,.42,.8,1.52,2.0]],['#f5841f','c',[.28,.40,.75,.77,.68]],['#7b3fa0','u',[.2,.34,.55,.70,.58]],['#1a3d9a','s',[.18,.36,.53,.61,.52]],['#e82020','u',[.22,.40,.78,1.70,2.6]],['#000','c',[.2,.45,.68,1.38,2.08]]];
ser.forEach(function(s){
 el(gf,'polyline',{points:T.map(function(t,i){return X(t)+','+Y(s[2][i]);}).join(' '),fill:'none',stroke:s[0],'stroke-width':2});
 T.forEach(function(t,i){var v=s[2][i];[-.05,0,.05].forEach(function(d){mk(gf,s[1],X(t),Y(v*(1+d)),s[0],4);});});
});

/* ---- panel g jitter ---- */
function jit(gid,pid,col){var g=$(gid),P=$(pid);
 var pp=P.getAttribute('points').trim().split(/\s+/).map(function(s){return s.split(',').map(Number);});
 for(var i=0;i<pp.length;i++){var a=pp[i],b=pp[(i+1)%pp.length];var L=Math.hypot(b[0]-a[0],b[1]-a[1]);var k=Math.ceil(L/3);
  for(var j=0;j<k;j++){var t=rnd();el(g,'circle',{cx:(a[0]+(b[0]-a[0])*t+(rnd()-.5)*9).toFixed(1),cy:(a[1]+(b[1]-a[1])*t+(rnd()-.5)*7).toFixed(1),r:3.2,fill:col});}}}
jit('gLg','pLg','#bdbdbd');jit('gLr','pLr','#e6231e');jit('gLb','pLb','#1c489e');
jit('gRg','pRg','#bdbdbd');jit('gRr','pRr','#e6231e');jit('gRb','pRb','#1c489e');

/* ---- panel h barcode ---- */
function bar(gid,x0,x1,y0,y1,n){var g=$(gid);for(var i=0;i<n;i++){var x=x0+rnd()*(x1-x0);el(g,'line',{x1:x.toFixed(1),x2:x.toFixed(1),y1:y0,y2:y1,stroke:'#000','stroke-width':1.1});}}
bar('hb1',150,500,1699,1757,200);bar('hb1',500,524,1699,1757,5);
bar('hb2',787,1128,1698,1755,240);bar('hb2',1128,1140,1698,1755,3);

/* ---- panel i cells ---- */
var gi=$('gi');
function cells(ox,oy,list,col,o0,o1,sc){sc=sc||1;list.forEach(function(c){el(gi,'ellipse',{cx:ox+c[0],cy:oy+c[1],rx:c[2]*sc,ry:c[3]*sc,fill:col,'fill-opacity':(o0+rnd()*(o1-o0)).toFixed(2),filter:'url(#b1)'});});}
function glow(ox,oy,cx,cy,rx,ry,col,op){el(gi,'ellipse',{cx:ox+cx,cy:oy+cy,rx:rx,ry:ry,fill:col,'fill-opacity':op,filter:'url(#b8)'});}
var A=[[79,57,11,9],[100,62,9,8],[122,70,9,8],[55,85,11,10],[78,82,10,9],[95,92,13,11],[133,88,12,10],[67,108,10,9],[84,106,10,9],[114,108,12,11],[137,117,12,10],[70,130,11,10],[103,127,12,11],[118,142,11,10],[152,113,9,9],[60,124,8,7],[90,148,9,8]];
var B=[[70,55,11,9],[83,56,12,10],[55,85,10,9],[79,83,8,8],[95,91,11,10],[132,86,9,9],[52,102,10,9],[57,117,10,9],[72,130,10,8],[92,139,11,9],[104,126,10,9],[118,142,10,9],[137,116,9,9]];
var C=[[67,88,9,8],[84,80,9,8],[104,70,10,9],[122,63,9,8],[124,91,10,9],[92,107,10,9],[114,110,10,9],[62,116,9,8],[82,127,9,8],[97,144,9,8],[114,144,9,8],[124,132,9,8],[82,99,9,8],[104,92,9,8],[140,112,8,8]];
var D=[[119,81,9,8],[104,89,8,7],[66,105,8,7],[122,111,8,8],[92,119,9,8],[61,128,8,8],[127,142,9,8],[94,153,8,7],[82,95,7,6]];
var c1=1356.5,c2=1561,c3=1765.4,r1=995.6,r2=1201,r3=1448.8,r4=1654.8;
// top row
glow(c1,r1,100,100,60,55,'#0a1a60',0.25);cells(c1,r1,A,'#2f4fd0',0.3,0.75,0.82);
glow(c2,r1,100,100,60,55,'#063a14',0.25);cells(c2,r1,A,'#18a844',0.4,0.85,0.82);
glow(c3,r1,100,100,60,55,'#3a0505',0.3);cells(c3,r1,A,'#d81818',0.3,0.9,0.8);
cells(c1,r2,B,'#cc48cc',0.7,0.95,0.85);
el(gi,'ellipse',{cx:c1+196,cy:r2+100,rx:14,ry:75,fill:'none',stroke:'#a030a0','stroke-opacity':0.4,'stroke-width':2,'stroke-dasharray':'2 3'});
glow(c2,r2,100,100,60,55,'#3a1808',0.35);cells(c2,r2,B,'#d050d0',0.5,0.8,0.85);
cells(c2,r2,[[81,82,10,9],[81,107,10,9]],'#e0702a',0.8,0.95,0.85);
cells(c2,r2,[[113,98,10,9],[137,104,9,9],[100,117,9,9],[122,112,9,8]],'#7a9a40',0.55,0.8,0.85);
cells(c2,r2,[[95,92,9,8],[133,88,9,8],[103,127,9,8]],'#e8c0e8',0.55,0.85,0.85);
el(gi,'ellipse',{cx:c2+196,cy:r2+100,rx:14,ry:75,fill:'none',stroke:'#a030a0','stroke-opacity':0.4,'stroke-width':2,'stroke-dasharray':'2 3'});
// bottom
glow(c1,r3,100,105,55,55,'#0a1a60',0.25);cells(c1,r3,C,'#2f4fd0',0.3,0.75,0.82);
glow(c2,r3,100,105,55,55,'#063a14',0.25);cells(c2,r3,C,'#20c04a',0.5,0.95,0.82);
glow(c3,r3,110,100,62,62,'#5a0a0a',0.55);cells(c3,r3,[[60,116,8,8],[77,107,8,8],[122,85,9,8],[85,74,8,7]],'#c81818',0.3,0.6);
cells(c1,r4,D,'#cc48cc',0.7,0.95,0.85);
for(var k=0;k<60;k++){el(gi,'circle',{cx:c1+50+rnd()*100,cy:r4+60+rnd()*110,r:1.2,fill:'#b040b0','fill-opacity':0.6});}
glow(c2,r4,105,105,60,62,'#4a1808',0.5);cells(c2,r4,C.map(function(c){return [c[0]+2,c[1]+15,c[2],c[3]];}),'#48b848',0.5,0.85,0.82);
cells(c2,r4,D.map(function(c){return [c[0],c[1]+3,c[2],c[3]];}),'#e090e0',0.45,0.8,0.85);
// BF speckle
[['bf1',1864,1300,58],['bf2',1866,1772,50]].forEach(function(b){var g=$(b[0]);for(var k=0;k<260;k++){var a=rnd()*6.283,r=Math.sqrt(rnd())*b[3];el(g,'circle',{cx:(b[1]+Math.cos(a)*r).toFixed(1),cy:(b[2]+Math.sin(a)*r*1.05).toFixed(1),r:(0.8+rnd()*1.6).toFixed(1),fill:rnd()<0.5?'#5e5e5e':'#a0a0a0','fill-opacity':0.5});}});
})();
</script>
</body></html>
